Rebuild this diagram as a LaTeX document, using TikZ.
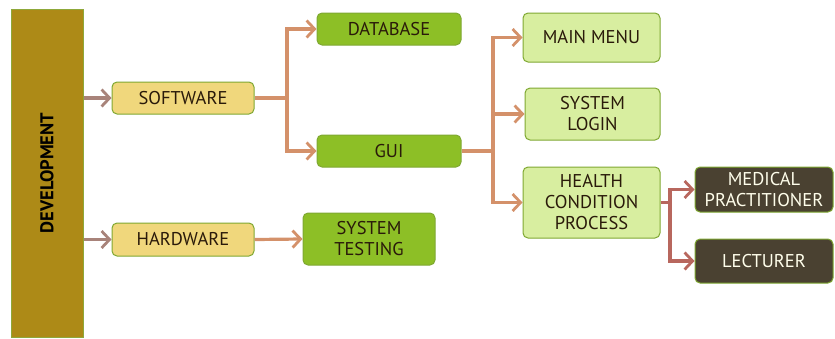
\documentclass[tikz,border=0pt]{standalone}
\usepackage{fontspec}
\setmainfont{PT Sans}
\usetikzlibrary{arrows.meta}
\definecolor{barfill}{HTML}{AD8A17}
\definecolor{barline}{HTML}{8FA83A}
\definecolor{yelfill}{HTML}{F0D77C}
\definecolor{grnfill}{HTML}{8DBF26}
\definecolor{ltfill}{HTML}{D8EEA0}
\definecolor{dkfill}{HTML}{4A4131}
\definecolor{boxline}{HTML}{7FA832}
\definecolor{tanline}{HTML}{D4916A}
\definecolor{rosyline}{HTML}{A8837A}
\definecolor{redline}{HTML}{B8675E}
\definecolor{inktxt}{HTML}{2A1A0A}
\tikzset{
  x=1pt, y=-1pt,
  basebox/.style={draw=boxline, line width=1pt, rounded corners=5pt,
    align=center, inner sep=0pt, text=inktxt,
    font=\fontsize{18.5}{21}\selectfont},
  yelbox/.style={basebox, fill=yelfill},
  grnbox/.style={basebox, fill=grnfill},
  ltbox/.style={basebox, fill=ltfill},
  dkbox/.style={basebox, fill=dkfill, text=white!92!yellow},
  link/.style={line width=3.2pt, draw=tanline},
  arr/.style={link, -{Straight Barb[length=8pt, width=17pt, line width=2.8pt]}},
}
\begin{document}
\begin{tikzpicture}
\useasboundingbox (0,0) rectangle (835,338);
% the tall development bar
\node[draw=barline, line width=1pt, fill=barfill, minimum width=72pt, minimum height=328pt, inner sep=0pt]
  (dev) at (47,173) {};
\node[rotate=90, font=\bfseries\fontsize{18.5}{20}\selectfont, text=black] (devlabel) at (dev.center) {DEVELOPMENT};
% first level
\node[yelbox, minimum width=142pt, minimum height=32pt] (sw) at (183,98) {SOFTWARE};
\node[yelbox, minimum width=142pt, minimum height=33pt] (hw) at (183,239.5) {HARDWARE};
% second level
\node[grnbox, minimum width=144pt, minimum height=32pt] (db) at (389,29) {DATABASE};
\node[grnbox, minimum width=144pt, minimum height=32pt] (gui) at (389,151) {GUI};
\node[grnbox, minimum width=132pt, minimum height=52pt] (test) at (369,239) {SYSTEM\\TESTING};
% GUI children
\node[ltbox, minimum width=137pt, minimum height=49pt] (menu) at (591.5,37.5) {MAIN MENU};
\node[ltbox, minimum width=135pt, minimum height=52pt] (login) at (592.5,114) {SYSTEM\\LOGIN};
\node[ltbox, minimum width=137pt, minimum height=71pt] (health) at (591.5,202.5) {HEALTH\\CONDITION\\PROCESS};
% users
\node[dkbox, minimum width=138pt, minimum height=45pt] (med) at (764,189.5) {MEDICAL\\PRACTITIONER};
\node[dkbox, minimum width=138pt, minimum height=44pt] (lec) at (764,261) {LECTURER};
% branch points
\coordinate (j1) at (287,98);
\coordinate (j2) at (493,151);
\coordinate (j3) at (670,202.5);
% connectors
\draw[arr, draw=rosyline] (dev.east |- sw.west) -- (sw.west);
\draw[arr, draw=rosyline] (dev.east |- hw.west) -- (hw.west);
\draw[link] (sw.east) -- (j1);
\draw[arr] (j1) |- (db.west);
\draw[arr] (j1) |- (gui.west);
\draw[arr] (hw.east) -- (test.west);
\draw[link] (gui.east) -- (j2);
\draw[arr] (j2) |- (menu.west);
\draw[arr] (j2) |- (login.west);
\draw[arr] (j2) |- (health.west);
\draw[link, draw=redline] (health.east) -- (j3);
\draw[arr, draw=redline] (j3) |- (med.west);
\draw[arr, draw=redline] (j3) |- (lec.west);
\end{tikzpicture}
\end{document}
